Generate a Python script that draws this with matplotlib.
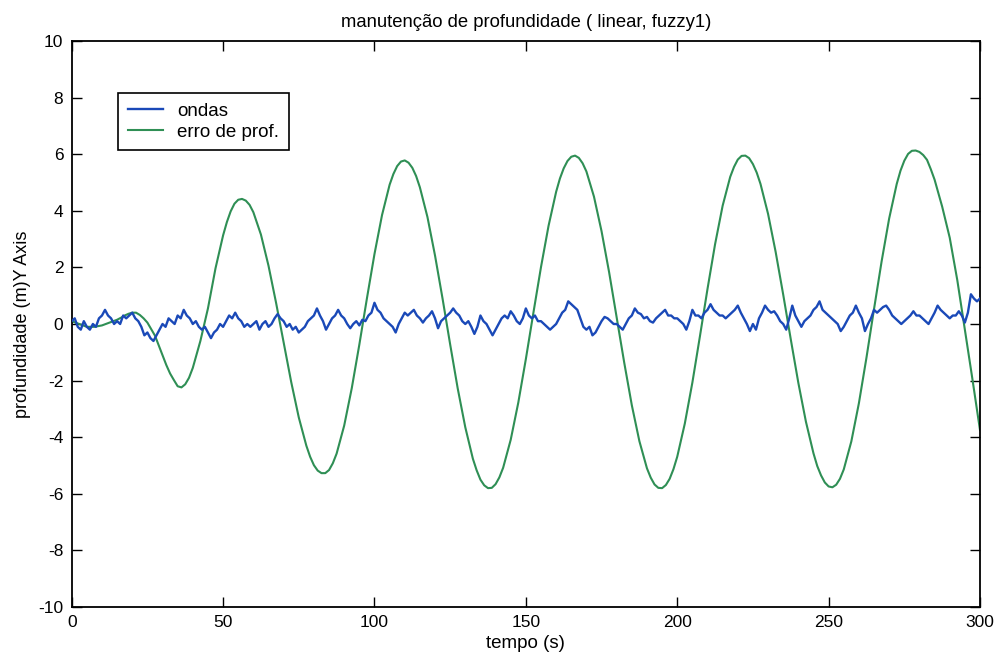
import numpy as np
import matplotlib
matplotlib.use("Agg")
import matplotlib.pyplot as plt

# ---- data ----
t_ondas = np.arange(0, 301, 1)  # 1 s sampling
ondas = [
    0.1, 0.2, -0.1, -0.2, 0.1, -0.1, -0.2, 0.0, -0.1, 0.2,
    0.3, 0.5, 0.3, 0.2, 0.0, 0.1, 0.0, 0.3, 0.2, 0.3,
    0.4, 0.2, 0.1, -0.1, -0.4, -0.3, -0.5, -0.6, -0.4, -0.2,
    0.0, -0.1, 0.2, 0.1, 0.0, 0.3, 0.2, 0.5, 0.3, 0.2,
    0.0, 0.1, -0.1, -0.2, -0.1, -0.3, -0.5, -0.3, -0.2, 0.0,
    -0.1, 0.1, 0.3, 0.2, 0.4, 0.2, 0.1, -0.1, 0.0, -0.1,
    0.0, 0.1, -0.2, 0.0, 0.1, -0.1, 0.0, 0.2, 0.35, 0.2,
    0.1, -0.1, 0.0, -0.2, -0.1, -0.3, -0.2, -0.1, 0.1, 0.2,
    0.3, 0.55, 0.3, 0.1, -0.2, 0.0, 0.2, 0.3, 0.5, 0.3,
    0.2, 0.0, -0.15, 0.0, 0.1, -0.05, 0.15, 0.1, 0.3, 0.4,
    0.75, 0.5, 0.4, 0.2, 0.1, 0.0, -0.1, -0.3, 0.0, 0.2,
    0.4, 0.3, 0.4, 0.5, 0.3, 0.2, 0.05, 0.2, 0.3, 0.45,
    0.2, -0.15, 0.1, 0.2, 0.3, 0.4, 0.55, 0.4, 0.3, 0.1,
    0.0, 0.1, -0.1, -0.35, -0.1, 0.3, 0.1, 0.0, -0.2, -0.4,
    -0.2, 0.0, 0.2, 0.3, 0.2, 0.45, 0.3, 0.1, 0.0, 0.2,
    0.55, 0.3, 0.2, 0.3, 0.1, 0.1, 0.0, -0.1, -0.2, -0.1,
    0.0, 0.2, 0.4, 0.5, 0.8, 0.7, 0.6, 0.5, 0.2, -0.1,
    -0.2, -0.1, -0.4, -0.3, -0.1, 0.1, 0.25, 0.2, 0.1, 0.0,
    0.0, -0.1, -0.2, 0.0, 0.2, 0.3, 0.55, 0.4, 0.35, 0.2,
    0.25, 0.1, 0.05, 0.2, 0.3, 0.4, 0.5, 0.3, 0.3, 0.2,
    0.2, 0.1, 0.0, -0.2, 0.1, 0.5, 0.3, 0.3, 0.2, 0.4,
    0.5, 0.7, 0.5, 0.4, 0.3, 0.3, 0.2, 0.3, 0.4, 0.5,
    0.65, 0.4, 0.2, 0.0, -0.25, 0.0, -0.2, 0.2, 0.4, 0.65,
    0.5, 0.4, 0.45, 0.3, 0.1, 0.0, -0.2, 0.2, 0.65, 0.3,
    0.1, -0.1, 0.1, 0.2, 0.3, 0.5, 0.6, 0.8, 0.5, 0.4,
    0.3, 0.2, 0.1, 0.0, -0.25, -0.1, 0.1, 0.3, 0.4, 0.65,
    0.4, 0.2, -0.25, 0.0, 0.2, 0.5, 0.4, 0.5, 0.6, 0.65,
    0.5, 0.3, 0.2, 0.1, 0.0, 0.1, 0.2, 0.3, 0.45, 0.3,
    0.3, 0.2, 0.1, 0.0, 0.2, 0.4, 0.65, 0.5, 0.4, 0.3,
    0.2, 0.3, 0.3, 0.45, 0.3, 0.05, 0.4, 1.05, 0.9, 0.8, 0.9,
]

# depth error, read every 2.5 s
t_erro = np.arange(0, 300.1, 2.5)
erro = [
    0.1, 0.0, -0.1, -0.1, -0.05, 0.05, 0.15, 0.3, 0.4, 0.32,
    0.05, -0.41, -1.1, -1.75, -2.2, -2.13, -1.55, -0.6, 0.55, 1.97,
    3.13, 3.98, 4.39, 4.36, 3.95, 3.16, 2.06, 0.75, -0.66, -2.05,
    -3.30, -4.30, -4.99, -5.27, -5.16, -4.58, -3.59, -2.27, -0.73, 0.90,
    2.47, 3.85, 4.92, 5.58, 5.78, 5.52, 4.83, 3.78, 2.42, 0.89,
    -0.72, -2.28, -3.65, -4.76, -5.50, -5.80, -5.66, -5.08, -4.09, -2.78,
    -1.24, 0.40, 2.01, 3.47, 4.67, 5.50, 5.91, 5.87, 5.39, 4.50,
    3.28, 1.83, 0.23, -1.37, -2.87, -4.14, -5.10, -5.67, -5.80, -5.47,
    -4.69, -3.52, -2.07, -0.43, 1.24, 2.82, 4.18, 5.20, 5.81, 5.95,
    5.65, 4.95, 3.89, 2.55, 1.04, -0.54, -2.08, -3.45, -4.57, -5.35,
    -5.74, -5.68, -5.14, -4.15, -2.80, -1.19, 0.53, 2.21, 3.73, 4.95,
    5.77, 6.12, 6.08, 5.8, 5.1, 4.15, 3.05, 1.55, -0.2, -1.95,
    -3.75,
]
# extra readings near the peaks and troughs
t_erro_pk = [16.25, 18.75, 21.25, 23.75, 31.25, 33.75, 36.25, 38.75,
             51.25, 53.75, 56.25, 58.75, 78.75, 81.25, 83.75, 86.25,
             106.25, 108.75, 111.25, 113.75, 133.75, 136.25, 138.75, 141.25,
             161.25, 163.75, 166.25, 168.75, 191.25, 193.75, 196.25, 198.75,
             218.75, 221.25, 223.75, 226.25, 246.25, 248.75, 251.25, 253.75,
             273.75, 276.25, 278.75, 281.25, 283.75]
erro_pk = [0.22, 0.36, 0.40, 0.20, -1.45, -1.98, -2.24, -1.90,
           3.60, 4.25, 4.42, 4.21, -4.69, -5.18, -5.27, -4.92,
           5.30, 5.74, 5.70, 5.23, -5.17, -5.70, -5.79, -5.42,
           5.14, 5.76, 5.95, 5.68, -5.43, -5.79, -5.69, -5.13,
           5.55, 5.94, 5.86, 5.35, -5.02, -5.60, -5.77, -5.47,
           5.42, 6.01, 6.13, 5.97, 5.47]

x_ticks = [0, 50, 100, 150, 200, 250, 300]
y_ticks = [-10, -8, -6, -4, -2, 0, 2, 4, 6, 8, 10]

title = "manutenção de profundidade ( linear, fuzzy1)"
xlabel = "tempo (s)"
ylabel = "profundidade (m)Y Axis"
labels = ["ondas", "erro de prof."]

# merge the two sets of readings of the green curve in time order
t_g = np.concatenate([t_erro, t_erro_pk])
v_g = np.concatenate([erro, erro_pk])
order = np.argsort(t_g, kind='stable')
t_g, v_g = t_g[order], v_g[order]

# ---- figure ----
plt.rcParams['font.family'] = ['Liberation Sans', 'DejaVu Sans']
W, H = 1002, 657
fig = plt.figure(figsize=(W / 100, H / 100), dpi=100)
left, right, top, bottom = 71.7, 980, 41, 607
ax = fig.add_axes([left / W, 1 - bottom / H, (right - left) / W, (bottom - top) / H])

blue = '#1a49b8'
green = '#2f8f55'
ax.plot(t_ondas, ondas, color=blue, lw=1.7, label=labels[0], zorder=3)
ax.plot(t_g, v_g, color=green, lw=1.5, label=labels[1], zorder=2)

ax.set_xlim(0, 300)
ax.set_ylim(-10, 10)
ax.set_xticks(x_ticks)
ax.set_yticks(y_ticks)
ax.set_xticklabels([str(v) for v in x_ticks])
ax.set_yticklabels([str(v) for v in y_ticks])
ax.tick_params(direction='in', length=7, width=1, top=True, right=True,
               labelsize=12.5, pad=6, colors='black')
for s in ax.spines.values():
    s.set_linewidth(1.3)
    s.set_color('black')

ax.set_title(title, fontsize=13.3, pad=10)
ax.set_xlabel(xlabel, fontsize=13.5, labelpad=3)
ax.set_ylabel(ylabel, fontsize=13, labelpad=5)

leg = ax.legend(loc='upper left', bbox_to_anchor=(0.0513, 0.9076), borderaxespad=0,
                fancybox=False, framealpha=1, edgecolor='black', fontsize=13.5,
                handlelength=1.9, handletextpad=0.75, labelspacing=0.22,
                borderpad=0.5)
leg.get_frame().set_linewidth(1.2)

fig.savefig("out.png", dpi=100)
